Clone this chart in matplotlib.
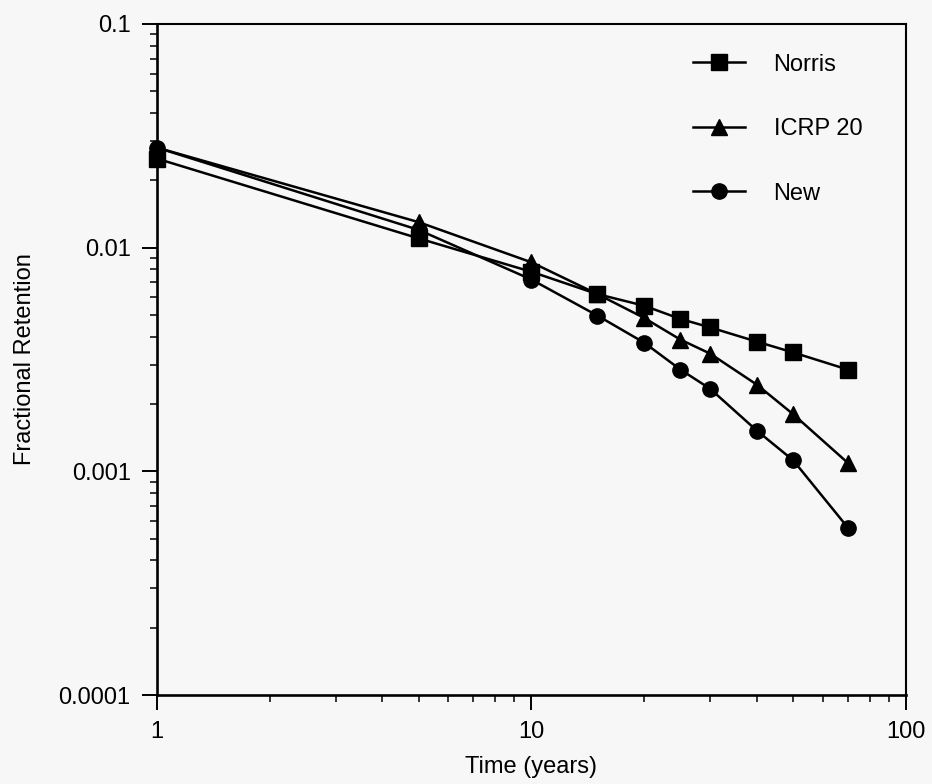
import matplotlib
matplotlib.use("Agg")
import matplotlib.pyplot as plt
from matplotlib.ticker import LogLocator, NullFormatter

plt.rcParams['font.family'] = ['Liberation Sans', 'DejaVu Sans']

BG = "#f7f7f7"

# time points (years)
years = [1, 5, 10, 15, 20, 25, 30, 40, 50, 70]

# fractional retention
norris = [0.025, 0.0110, 0.0078, 0.0062, 0.0055, 0.0048, 0.0044, 0.0038, 0.0034, 0.00285]
icrp20 = [0.028, 0.0130, 0.0086, 0.0062, 0.00485, 0.00388, 0.00336, 0.00244, 0.00180, 0.00109]
new = [0.028, 0.0120, 0.0072, 0.00497, 0.00376, 0.00285, 0.00234, 0.00152, 0.00112, 0.00056]

series_names = ["Norris", "ICRP 20", "New"]
series_markers = ["s", "^", "o"]

xticks = [1, 10, 100]
xticklabels = ["1", "10", "100"]
yticks = [0.0001, 0.001, 0.01, 0.1]
yticklabels = ["0.0001", "0.001", "0.01", "0.1"]

FS = 17

fig = plt.figure(figsize=(9.32, 7.84), dpi=100, facecolor=BG)
ax = fig.add_axes([0.1685, 0.1135, 0.8035, 0.8559])
ax.set_facecolor(BG)

for vals, name, mk in zip([norris, icrp20, new], series_names, series_markers):
    ax.plot(years, vals, color="black", lw=1.8, marker=mk, markersize=11,
            markerfacecolor="black", markeredgecolor="black", label=name,
            clip_on=False, zorder=3)

ax.set_xscale("log")
ax.set_yscale("log")
ax.set_xlim(1, 100)
ax.set_ylim(0.0001, 0.1)

ax.set_xticks(xticks)
ax.set_xticklabels(xticklabels)
ax.set_yticks(yticks)
ax.set_yticklabels(yticklabels)
ax.xaxis.set_minor_locator(LogLocator(base=10, subs=range(2, 10)))
ax.yaxis.set_minor_locator(LogLocator(base=10, subs=range(2, 10)))
ax.xaxis.set_minor_formatter(NullFormatter())
ax.yaxis.set_minor_formatter(NullFormatter())

ax.tick_params(which="major", direction="out", length=11, width=1.4,
               labelsize=FS, pad=8, top=False, right=False)
ax.tick_params(which="minor", direction="out", length=5, width=1.1,
               top=False, right=False)

for side in ["left", "bottom"]:
    ax.spines[side].set_linewidth(1.9)
for side in ["top", "right"]:
    ax.spines[side].set_linewidth(1.5)

ax.set_xlabel("Time (years)", fontsize=FS, labelpad=9)
ax.set_ylabel("Fractional Retention", fontsize=FS, labelpad=16)

leg = ax.legend(loc="upper left", bbox_to_anchor=(0.716, 0.956), frameon=False,
                fontsize=FS, handlelength=2.2, handletextpad=1.2,
                labelspacing=1.8, borderaxespad=0, borderpad=0)

fig.savefig("out.png", dpi=100, facecolor=BG)
